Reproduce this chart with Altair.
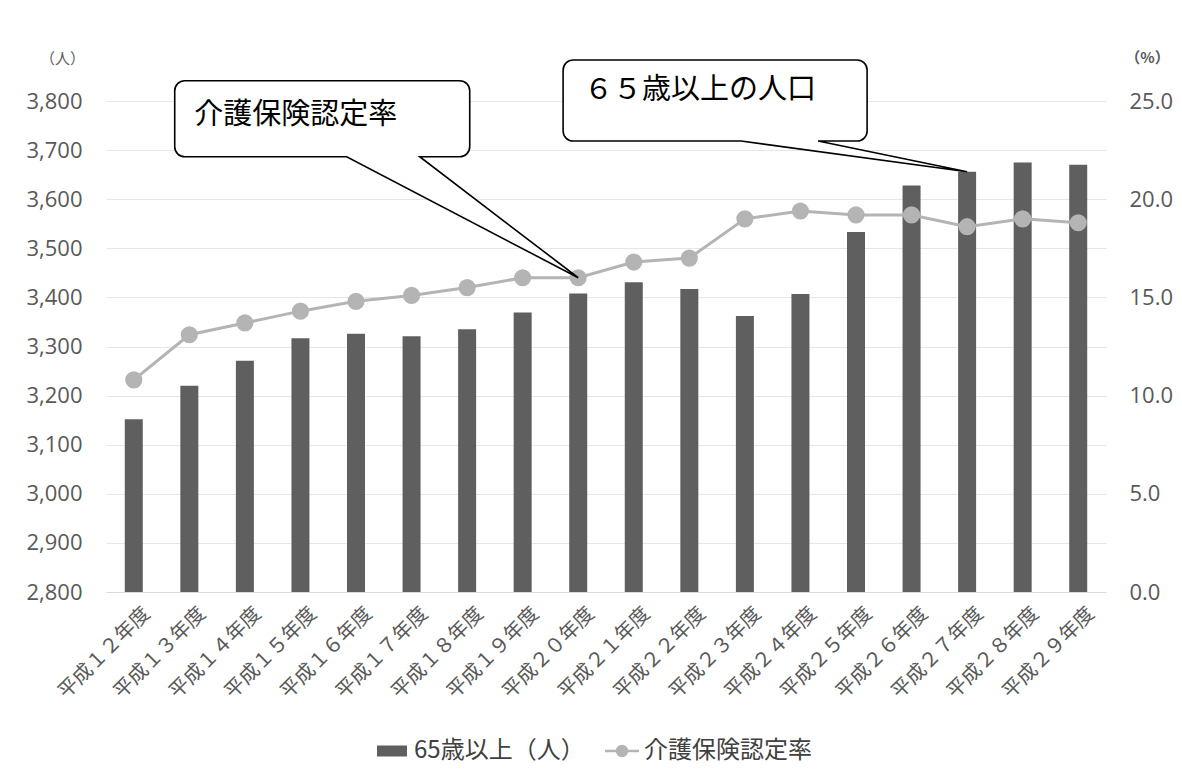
import altair as alt
import pandas as pd

# ---- data ----
years = ["平成１２年度", "平成１３年度", "平成１４年度", "平成１５年度", "平成１６年度", "平成１７年度",
         "平成１８年度", "平成１９年度", "平成２０年度", "平成２１年度", "平成２２年度", "平成２３年度",
         "平成２４年度", "平成２５年度", "平成２６年度", "平成２７年度", "平成２８年度", "平成２９年度"]
pop65 = [3152, 3220, 3271, 3317, 3326, 3321, 3335, 3369, 3408, 3431,
         3417, 3362, 3407, 3533, 3628, 3656, 3675, 3670]
cert_rate = [10.8, 13.1, 13.7, 14.3, 14.8, 15.1, 15.5, 16.0, 16.0, 16.8,
             17.0, 19.0, 19.4, 19.2, 19.2, 18.6, 19.0, 18.8]
series_names = ["65歳以上（人）", "介護保険認定率"]
left_ticks = [2800, 2900, 3000, 3100, 3200, 3300, 3400, 3500, 3600, 3700, 3800]
right_ticks = [0, 5, 10, 15, 20, 25]
callout_texts = ["介護保険認定率", "６５歳以上の人口"]

# ---- styles ----
BAR_C = "#5f5f5f"
LINE_C = "#b4b4b4"
LBL_C = "#595959"
JP = "Noto Sans CJK JP"
NUM = "Open Sans"

df = pd.DataFrame({"year": years, "pop": pop65, "rate": cert_rate})

x_enc = alt.X(
    "year:N", sort=years,
    scale=alt.Scale(paddingInner=0.5, paddingOuter=0.25),
    axis=alt.Axis(title=None, labelAngle=-45, labelAlign="right", labelBaseline="middle",
                  labelFontSize=20, labelFont=JP, labelColor=LBL_C, labelPadding=18,
                  labelOffset=13, ticks=False, domainColor="#d9d9d9", grid=False,
                  labelOverlap=False, labelLimit=300),
)

bar_shape = "M-1.5,-0.55H1.5V0.55H-1.5Z"
line_shape = "M-1.7,0H-0.5M0.5,0H1.7M-0.5,0A0.5,0.5 0 1,0 0.5,0A0.5,0.5 0 1,0 -0.5,0Z"

legend_common = dict(title=None, orient="none", direction="horizontal", symbolSize=400,
                     labelFontSize=24, labelFont=JP, labelColor="#404040", labelOffset=10,
                     symbolOpacity=1, labelLimit=400)

bars = alt.Chart(df).transform_calculate(series=f"'{series_names[0]}'").mark_bar(size=18).encode(
    x=x_enc,
    y=alt.Y("pop:Q", scale=alt.Scale(domain=[2800, 3800], nice=False, zero=False),
            axis=alt.Axis(values=left_ticks, format=",d", title="（人）", titleAngle=0,
                          titleX=-44, titleY=-43, titleAlign="center", titleBaseline="middle",
                          titleFontSize=15, titleFontWeight="normal", titleColor=LBL_C, titleFont=JP,
                          labelFontSize=22, labelFont=NUM, labelColor=LBL_C, labelPadding=24,
                          ticks=False, domain=False, grid=True, gridColor="#e6e6e6")),
    y2=alt.datum(left_ticks[0]),
    color=alt.Color("series:N", scale=alt.Scale(domain=[series_names[0]], range=[BAR_C]),
                    legend=alt.Legend(legendX=274, legendY=638, symbolType=bar_shape,
                                      symbolStrokeWidth=0, **legend_common)),
)

line = alt.Chart(df).transform_calculate(series=f"'{series_names[1]}'").mark_line(
    strokeWidth=3, color=LINE_C,
    point=alt.OverlayMarkDef(size=230, filled=True, color=LINE_C, opacity=1),
).encode(
    x=x_enc,
    y=alt.Y("rate:Q", scale=alt.Scale(domain=[0, 25], nice=False),
            axis=alt.Axis(orient="right", values=right_ticks, format=".1f", title="（%）",
                          titleAngle=0, titleX=41, titleY=-44, titleAlign="center",
                          titleBaseline="middle", titleFontSize=15, titleFontWeight="bold",
                          titleColor=LBL_C, titleFont=JP, labelFontSize=22, labelFont=NUM,
                          labelColor=LBL_C, labelPadding=23, ticks=False, domain=False,
                          grid=False)),
    stroke=alt.Stroke("series:N", scale=alt.Scale(domain=[series_names[1]], range=[LINE_C]),
                      legend=alt.Legend(legendX=504, legendY=638, symbolType=line_shape,
                                        symbolFillColor=LINE_C, symbolStrokeWidth=2.5,
                                        **legend_common)),
)

# ---- callouts, anchored at data points ----
c1 = pd.DataFrame({"year": [years[8]], "rate": [cert_rate[8]], "label": [callout_texts[0]]})
c2 = pd.DataFrame({"year": [years[15]], "pop": [pop65[15]], "label": [callout_texts[1]]})

shape1 = ("M-393.5,-197H-118.5A10,10 0 0,1 -108.5,-187V-131A10,10 0 0,1 -118.5,-121"
          "H-158.5L0,0L-231.5,-121H-393.5A10,10 0 0,1 -403.5,-131V-187A10,10 0 0,1 -393.5,-197Z")
shape2 = ("M-394,-111.7H-110A10,10 0 0,1 -100,-101.7V-40.7A10,10 0 0,1 -110,-30.7"
          "H-149L0,0L-226,-30.7H-394A10,10 0 0,1 -404,-40.7V-101.7A10,10 0 0,1 -394,-111.7Z")

y_rate_hidden = alt.Y("rate:Q", scale=alt.Scale(domain=[0, 25], nice=False), axis=None)
y_pop_hidden = alt.Y("pop:Q", scale=alt.Scale(domain=[2800, 3800], nice=False, zero=False), axis=None)

c2_shape = alt.Chart(c2).mark_point(shape=shape2, size=4, filled=True, fill="white",
                                    stroke="black", strokeWidth=1.6, opacity=1).encode(
    x=x_enc, y=y_pop_hidden)
c2_text = alt.Chart(c2).mark_text(align="left", baseline="middle", dx=-383, dy=-82,
                                  fontSize=29, font=JP, color="black").encode(
    x=x_enc, y=y_pop_hidden, text="label:N")
c1_shape = alt.Chart(c1).mark_point(shape=shape1, size=4, filled=True, fill="white",
                                    stroke="black", strokeWidth=1.6, opacity=1).encode(
    x=x_enc, y=y_rate_hidden)
c1_text = alt.Chart(c1).mark_text(align="left", baseline="middle", dx=-384, dy=-163,
                                  fontSize=29, font=JP, color="black").encode(
    x=x_enc, y=y_rate_hidden, text="label:N")

chart = alt.layer(bars, line, c2_shape, c2_text, c1_shape, c1_text).resolve_scale(
    y="independent"
).properties(
    width=1000, height=491,
    autosize=alt.AutoSizeParams(type="none"),
    padding={"left": 98, "top": 93, "right": 68, "bottom": 175},
    background="white",
).configure_view(stroke=None)

chart.save("out.html", embed_options={"renderer": "svg", "actions": False})
